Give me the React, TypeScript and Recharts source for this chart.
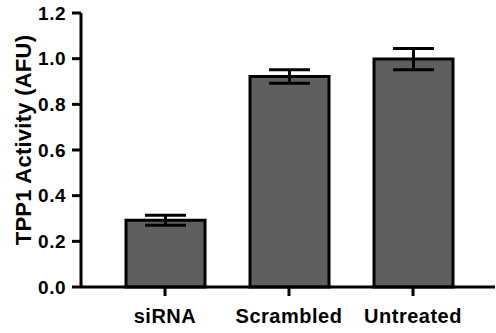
import { BarChart, Bar, XAxis, YAxis, ErrorBar, Label } from 'recharts';

const groups = ['siRNA', 'Scrambled', 'Untreated'];
const activity = [0.292, 0.922, 0.998];
const sem = [0.022, 0.03, 0.046];
const yTicks = [0, 0.2, 0.4, 0.6, 0.8, 1.0, 1.2];

const chartData = groups.map((g, i) => ({ group: g, value: activity[i], err: sem[i] }));

const font = '"Liberation Sans", Arial, sans-serif';

export default function App() {
  return (
    <div style={{ position: 'absolute', left: 0, top: 0, width: 496, height: 333, background: '#fff' }}>
      <BarChart
        width={496}
        height={333}
        data={chartData}
        margin={{ top: 13, right: 1, bottom: 0, left: 21 }}
      >
        <XAxis
          dataKey="group"
          padding={{ left: 22, right: 20 }}
          height={46}
          stroke="#000"
          axisLine={{ stroke: '#000', strokeWidth: 3 }}
          tickLine={{ stroke: '#000', strokeWidth: 3 }}
          tickSize={9}
          tickMargin={13}
          tick={{ fontSize: 20, fontWeight: 700, fill: '#000', fontFamily: font, letterSpacing: 0.5 }}
          interval={0}
        />
        <YAxis
          width={60}
          domain={[0, 1.2]}
          ticks={yTicks}
          stroke="#000"
          tickFormatter={(v: number) => v.toFixed(1)}
          axisLine={{ stroke: '#000', strokeWidth: 3 }}
          tickLine={{ stroke: '#000', strokeWidth: 3 }}
          tickSize={9}
          tickMargin={6}
          tick={{ fontSize: 19, fontWeight: 700, fill: '#000', fontFamily: font, letterSpacing: 0.5 }}
        >
          <Label
            content={() => (
              <text
                transform="translate(23,140) rotate(-90)"
                textAnchor="middle"
                dominantBaseline="central"
                style={{ fontSize: 22, fontWeight: 700, fill: '#000', fontFamily: font, letterSpacing: 0.25 }}
              >
                TPP1 Activity (AFU)
              </text>
            )}
          />
        </YAxis>
        <Bar
          dataKey="value"
          fill="#5f5f5f"
          stroke="#000"
          strokeWidth={3}
          barSize={79}
          isAnimationActive={false}
        >
          <ErrorBar dataKey="err" width={20.5} stroke="#000" strokeWidth={3} direction="y" />
        </Bar>
      </BarChart>
    </div>
  );
}
